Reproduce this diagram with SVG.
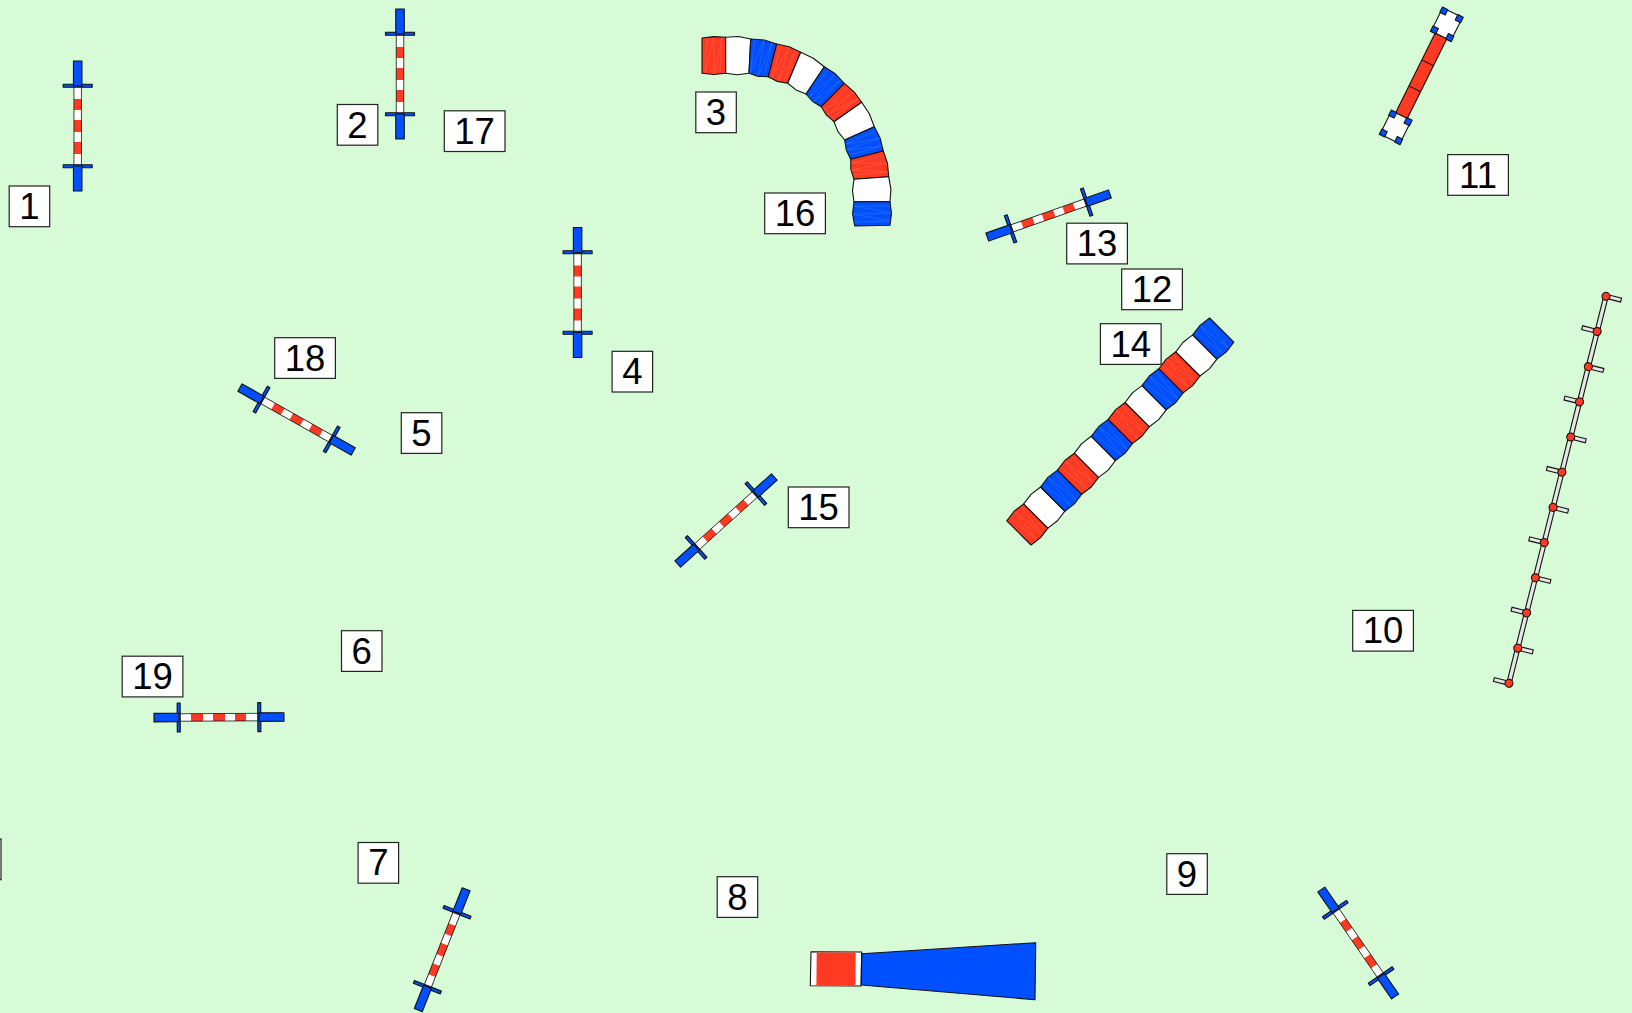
<svg xmlns="http://www.w3.org/2000/svg" xmlns:xlink="http://www.w3.org/1999/xlink" width="1632" height="1013" viewBox="0 0 1632 1013">
<style>
.lb{fill:#fff;stroke:#222;stroke-width:1.2}
.tx{font-family:"Liberation Sans",Arial,sans-serif;font-size:36.5px;fill:#000;text-anchor:middle}
.r{fill:#ff3a22}.w{fill:#fff}.b{fill:#0050ff}
.k{stroke:#111;stroke-width:1.1;stroke-linejoin:round}
.n{stroke:none}
.seam{fill:none;stroke:#fff;stroke-width:.5;stroke-opacity:.22}
.pole{fill:#e6e6e6;stroke:#111;stroke-width:1.1}
.dot{fill:#ff3a22;stroke:#111;stroke-width:1.1}
</style>
<defs>
<g id="jump">
<rect class="w n" x="-3.75" y="-41" width="7.5" height="82"/>
<rect class="r n" x="-3.75" y="-27" width="7.5" height="11"/>
<rect class="r n" x="-3.75" y="-6" width="7.5" height="12"/>
<rect class="r n" x="-3.75" y="16" width="7.5" height="12"/>
<path d="M-3.75-41V41M3.75-41V41" fill="none" stroke="#111" stroke-width=".8"/>
<rect class="b k" x="-14.5" y="-41.8" width="29" height="3"/>
<rect class="b k" x="-14.5" y="38.8" width="29" height="3"/>
<rect class="b k" x="-4.25" y="-65" width="8.5" height="25"/>
<rect class="b k" x="-4.25" y="40" width="8.5" height="25"/>
</g>
<polygon id="sg" class="k" points="-11.95,-17.1 0,-18.7 11.95,-17.1 11.95,17.1 0,18.7 -11.95,17.1"/>
<path id="sm" class="seam" d="M-8-17L-4 17L0-18L4 17L8-17"/>
<g id="leg"><rect class="w k" x="-11" y="-13" width="22" height="26"/>
<rect class="b k" x="-11.6" y="-13.6" width="6" height="6"/>
<rect class="b k" x="5.6" y="-13.6" width="6" height="6"/>
<rect class="b k" x="-11.6" y="7.6" width="6" height="6"/>
<rect class="b k" x="5.6" y="7.6" width="6" height="6"/></g>
</defs>
<rect width="1632" height="1013" fill="#d6fbd6"/>
<g id="obstacles">
<g id="jump-1"><use href="#jump" transform="translate(77.7,126)"/></g>
<g id="jump-2"><use href="#jump" transform="translate(400,74)"/></g>
<g id="jump-4"><use href="#jump" transform="translate(577.6,292.5)"/></g>
<g id="jump-5"><use href="#jump" transform="translate(296.6,419.5) rotate(-60.6)"/></g>
<g id="jump-15"><use href="#jump" transform="translate(726,520.5) rotate(48)"/></g>
<g id="jump-13"><use href="#jump" transform="translate(1048.6,215.5) rotate(70.6)"/></g>
<g id="jump-19"><use href="#jump" transform="translate(219,717.3) rotate(89.7)"/></g>
<g id="jump-7"><use href="#jump" transform="translate(442.2,949.7) rotate(21.6)"/></g>
<g id="jump-9"><use href="#jump" transform="translate(1358.2,943) rotate(-34.6)"/></g>

<g id="tunnel-3">
<polygon class="r k" points="702,38 713.8,36.6 725.7,37.3 725.7,73.3 713.8,74.5 702,73.3"/>
<polygon class="w k" points="725.7,37.3 738.4,36.5 750.7,39 749,73.3 737.2,74.7 725.7,73.3"/>
<polygon class="b k" points="750.7,39 764.2,40 776.7,44 768.3,76.7 758.3,76.4 749,73.3"/>
<polygon class="r k" points="776.7,44 789.2,46.7 800.7,52.3 787.7,83.3 777.5,81.4 768.3,76.7"/>
<polygon class="w k" points="800.7,52.3 813.3,58.2 824.3,66.7 806,94 796.1,89.9 787.7,83.3"/>
<polygon class="b k" points="824.3,66.7 835.3,73.8 844.3,83.3 821.3,106.7 812.7,101.5 806,94"/>
<polygon class="r k" points="844.3,83.3 854.1,91.8 861.7,102.3 834,121.7 826.5,115.2 821.3,106.7"/>
<polygon class="w k" points="861.7,102.3 869.3,113.8 874.3,126.7 844.7,140 838,131.6 834,121.7"/>
<polygon class="b k" points="874.3,126.7 880.2,138.3 883.3,151 850.7,159.3 846.3,150.1 844.7,140"/>
<polygon class="r k" points="883.3,151 887.5,163.5 888.7,176.7 854,179.3 850.9,169.6 850.7,159.3"/>
<polygon class="w k" points="888.7,176.7 890.9,189.1 890,201.7 854,201.7 852.5,190.6 854,179.3"/>
<polygon class="b k" points="890,201.7 891.5,213.5 890,225.3 854.7,226 852.6,213.8 854,201.7"/>
<path class="seam" d="M707 38L705 73L714 37L714 74L722 38L720 73M755 39L750 74L764 40L758 76L772 43L764 76M781 45L772 78L789 47L778 81L796 50L784 82M828 69L809 97L835 74L813 102L841 80L818 104M848 87L824 110L854 92L827 115L859 98L831 119M876 131L846 144L880 138L846 150L882 146L849 155M885 155L851 163L887 163L851 170L888 172L853 175M890 206L854 206L891 213L853 214L890 221L854 222"/>
</g>

<g id="tunnel-14" transform="translate(1120.3,431.5) rotate(-45)">
<g transform="translate(-131.45,0)"><use href="#sg" class="r"/><use href="#sm"/></g>
<g transform="translate(-107.55,0)"><use href="#sg" class="w"/></g>
<g transform="translate(-83.65,0)"><use href="#sg" class="b"/><use href="#sm"/></g>
<g transform="translate(-59.75,0)"><use href="#sg" class="r"/><use href="#sm"/></g>
<g transform="translate(-35.85,0)"><use href="#sg" class="w"/></g>
<g transform="translate(-11.95,0)"><use href="#sg" class="b"/><use href="#sm"/></g>
<g transform="translate(11.95,0)"><use href="#sg" class="r"/><use href="#sm"/></g>
<g transform="translate(35.85,0)"><use href="#sg" class="w"/></g>
<g transform="translate(59.75,0)"><use href="#sg" class="b"/><use href="#sm"/></g>
<g transform="translate(83.65,0)"><use href="#sg" class="r"/><use href="#sm"/></g>
<g transform="translate(107.55,0)"><use href="#sg" class="w"/></g>
<g transform="translate(131.45,0)"><use href="#sg" class="b"/><use href="#sm"/></g>
</g>

<g id="chute-8">
<polygon class="w k" points="811,951.7 861.7,952 861,986 810.3,985.7"/>
<polygon class="r n" points="816.7,952.4 855.7,952.4 855.4,985.4 816.4,985.4"/>
<polygon class="b k" points="861.7,953.7 1035.7,942.7 1035,999.7 861.3,985"/>
</g>

<g id="table-11" transform="translate(1421.25,75.8) rotate(26.4)">
<rect class="r k" x="-6.5" y="-44.5" width="13" height="89"/>
<path d="M-6.5-14.5H6.5M-6.5 14.5H6.5" stroke="#111" stroke-width="1" fill="none"/>
<use href="#leg" y="-57.5"/>
<use href="#leg" y="57.5"/>
</g>

<g id="weave-10" transform="translate(1606,296.3) rotate(14.08)">
<rect class="pole" x="-2.2" y="0" width="4.4" height="399"/>
<rect class="pole" x="0" y="-2" width="15.5" height="4"/>
<rect class="pole" x="-15.5" y="34.27" width="15.5" height="4"/>
<rect class="pole" x="0" y="70.54" width="15.5" height="4"/>
<rect class="pole" x="-15.5" y="106.81" width="15.5" height="4"/>
<rect class="pole" x="0" y="143.08" width="15.5" height="4"/>
<rect class="pole" x="-15.5" y="179.35" width="15.5" height="4"/>
<rect class="pole" x="0" y="215.62" width="15.5" height="4"/>
<rect class="pole" x="-15.5" y="251.89" width="15.5" height="4"/>
<rect class="pole" x="0" y="288.16" width="15.5" height="4"/>
<rect class="pole" x="-15.5" y="324.43" width="15.5" height="4"/>
<rect class="pole" x="0" y="360.7" width="15.5" height="4"/>
<rect class="pole" x="-15.5" y="396.97" width="15.5" height="4"/>
<circle class="dot" r="4" cy="0"/><circle class="dot" r="4" cy="36.27"/><circle class="dot" r="4" cy="72.54"/><circle class="dot" r="4" cy="108.81"/><circle class="dot" r="4" cy="145.08"/><circle class="dot" r="4" cy="181.35"/><circle class="dot" r="4" cy="217.62"/><circle class="dot" r="4" cy="253.89"/><circle class="dot" r="4" cy="290.16"/><circle class="dot" r="4" cy="326.43"/><circle class="dot" r="4" cy="362.7"/><circle class="dot" r="4" cy="398.97"/>
</g>
</g>

<g id="labels">
<g id="label-edge"><rect class="lb" x="-39" y="839" width="40" height="40.7"/></g>
<g id="label-1"><rect class="lb" x="9.2" y="186" width="40.5" height="40.7"/><text class="tx" x="29.4" y="219">1</text></g>
<g id="label-2"><rect class="lb" x="337.3" y="104.5" width="40.5" height="40.7"/><text class="tx" x="357.5" y="137.5">2</text></g>
<g id="label-17"><rect class="lb" x="444.3" y="110.8" width="60.7" height="40.7"/><text class="tx" x="474.6" y="143.7">17</text></g>
<g id="label-3"><rect class="lb" x="695.8" y="92" width="40.5" height="40.7"/><text class="tx" x="716" y="125">3</text></g>
<g id="label-16"><rect class="lb" x="764.7" y="193" width="60.7" height="40.7"/><text class="tx" x="795" y="226">16</text></g>
<g id="label-13"><rect class="lb" x="1066.7" y="223.2" width="60.7" height="40.7"/><text class="tx" x="1097" y="256.1">13</text></g>
<g id="label-12"><rect class="lb" x="1121.7" y="269" width="60.7" height="40.7"/><text class="tx" x="1152" y="301.9">12</text></g>
<g id="label-14"><rect class="lb" x="1100.4" y="323.7" width="60.7" height="40.7"/><text class="tx" x="1130.7" y="356.6">14</text></g>
<g id="label-11"><rect class="lb" x="1447.7" y="154.6" width="60.7" height="40.7"/><text class="tx" x="1478" y="187.5">11</text></g>
<g id="label-18"><rect class="lb" x="274.7" y="337.7" width="60.7" height="40.7"/><text class="tx" x="305" y="370.6">18</text></g>
<g id="label-4"><rect class="lb" x="612.1" y="351.3" width="40.5" height="40.7"/><text class="tx" x="632.3" y="384.2">4</text></g>
<g id="label-5"><rect class="lb" x="401.3" y="412.7" width="40.5" height="40.7"/><text class="tx" x="421.5" y="445.6">5</text></g>
<g id="label-15"><rect class="lb" x="788.3" y="487" width="60.7" height="40.7"/><text class="tx" x="818.6" y="520">15</text></g>
<g id="label-6"><rect class="lb" x="341.5" y="630.7" width="40.5" height="40.7"/><text class="tx" x="361.7" y="663.6">6</text></g>
<g id="label-19"><rect class="lb" x="122.2" y="656.2" width="60.7" height="40.7"/><text class="tx" x="152.5" y="689.1">19</text></g>
<g id="label-10"><rect class="lb" x="1352.7" y="610.4" width="60.7" height="40.7"/><text class="tx" x="1383" y="643.3">10</text></g>
<g id="label-7"><rect class="lb" x="358.1" y="842.5" width="40.5" height="40.7"/><text class="tx" x="378.3" y="875.4">7</text></g>
<g id="label-8"><rect class="lb" x="717.2" y="876.7" width="40.5" height="40.7"/><text class="tx" x="737.4" y="909.6">8</text></g>
<g id="label-9"><rect class="lb" x="1166.8" y="853.7" width="40.5" height="40.7"/><text class="tx" x="1187" y="886.6">9</text></g>
</g>
</svg>
